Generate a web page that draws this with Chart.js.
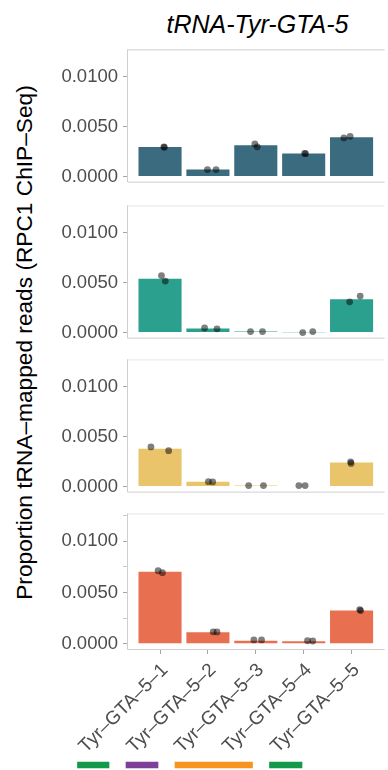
<!DOCTYPE html>
<html>
<head>
<meta charset="utf-8">
<script src="https://cdn.jsdelivr.net/npm/chart.js@4.4.1/dist/chart.umd.min.js"></script>
<style>
  body { margin: 0; background: #ffffff; }
  #wrap { position: relative; width: 388px; height: 770px; overflow: hidden; font-family: "Liberation Sans", Arial, sans-serif; }
  #wrap canvas { position: absolute; left: 0; }
  #title { position: absolute; left: 127px; width: 261px; top: 12px; line-height: 25px; font-size: 25px; font-style: italic; text-align: center; color: #000; }
  #ytitle { position: absolute; left: -276.5px; width: 600px; top: 331px; line-height: 23px; font-size: 22.7px; text-align: center; color: #000; transform: rotate(-90deg); white-space: nowrap; }
</style>
</head>
<body>
<div id="wrap">
  <div id="title">tRNA-Tyr-GTA-5</div>
  <div id="ytitle">Proportion tRNA–mapped reads (RPC1 ChIP–Seq)</div>
  <canvas id="panel1" width="388" height="140" style="top:46px"></canvas>
  <canvas id="panel2" width="388" height="140" style="top:202px"></canvas>
  <canvas id="panel3" width="388" height="140" style="top:356px"></canvas>
  <canvas id="panel4" width="388" height="240" style="top:510px"></canvas>
  <canvas id="track" width="388" height="14" style="top:758px"></canvas>
</div>
<script>
const categories = ['Tyr–GTA–5–1', 'Tyr–GTA–5–2', 'Tyr–GTA–5–3', 'Tyr–GTA–5–4', 'Tyr–GTA–5–5'];
const yTickValues = [0, 0.0025, 0.005, 0.0075, 0.01, 0.0125];

// bar heights (mean) and the replicate points on top of them, one set per panel
const means1 = [0.00295, 0.0007, 0.00314, 0.00231, 0.00393];
const repX1 = [1.08, 1.09, 1.99, 2.17, 2.98, 3.03, 4.02, 4.04, 4.84, 4.97];
const repY1 = [0.00298, 0.00293, 0.0007, 0.0007, 0.00327, 0.00298, 0.00232, 0.00229, 0.00387, 0.00403];

const means2 = [0.00538, 0.00041, 0.0001, 0.00003, 0.00333];
const repX2 = [1.03, 1.11, 1.93, 2.19, 2.89, 3.14, 3.98, 4.19, 4.96, 5.18];
const repY2 = [0.0057, 0.00515, 0.00046, 0.00038, 0.0001, 0.0001, 0.0, 0.0001, 0.00308, 0.00365];

const means3 = [0.00378, 0.00048, 0.00012, 0.00005, 0.0024];
const repX3 = [0.81, 1.18, 2.01, 2.1, 2.85, 3.16, 3.9, 4.03, 4.98, 4.99];
const repY3 = [0.00397, 0.00359, 0.00049, 0.00047, 0.0001, 0.0001, 0.0001, 0.0001, 0.00248, 0.00232];

const means4 = [0.00703, 0.00114, 0.00031, 0.00025, 0.00326];
const repX4 = [0.96, 1.05, 2.11, 2.19, 2.96, 3.12, 4.08, 4.19, 5.17, 5.19];
const repY4 = [0.00713, 0.00694, 0.00117, 0.00116, 0.00038, 0.00038, 0.0003, 0.00028, 0.00334, 0.00324];

// feature track under the x labels
const trackStart = [77.5, 126, 175, 269.5];
const trackEnd = [109, 158, 252.5, 302];
const trackColors = ['#13994A', '#7E3F98', '#F7941E', '#13994A'];

const fontFamily = '"Liberation Sans", Arial, sans-serif';

// light frame around each panel
const panelFrame = {
    id: 'panelFrame',
    beforeDatasetsDraw(chart, args, opts) {
        const ctx = chart.ctx;
        const a = chart.chartArea;
        ctx.save();
        ctx.lineWidth = 1;
        ctx.strokeStyle = opts.topColor;
        ctx.beginPath();
        ctx.moveTo(a.left, a.top + 0.5);
        ctx.lineTo(a.right, a.top + 0.5);
        ctx.stroke();
        ctx.strokeStyle = opts.color;
        ctx.beginPath();
        ctx.moveTo(a.left + 0.5, a.top);
        ctx.lineTo(a.left + 0.5, a.bottom - 0.5);
        ctx.lineTo(a.right, a.bottom - 0.5);
        ctx.stroke();
        ctx.restore();
    }
};

function isMajor(v) {
    return Math.abs(v / 0.005 - Math.round(v / 0.005)) < 1e-6;
}

function makePanel(id, means, repX, repY, color, topColor, showX) {
    let bars = means.map((v, i) => ({ x: i + 1, y: v }));
    let points = repX.map((x, i) => ({ x: x, y: repY[i] }));

    return new Chart(document.getElementById(id), {
        data: {
            datasets: [
                {
                    type: 'scatter',
                    data: points,
                    pointRadius: 3.4,
                    pointHoverRadius: 3.4,
                    backgroundColor: 'rgba(0,0,0,0.5)',
                    borderWidth: 0
                },
                {
                    type: 'bar',
                    data: bars,
                    backgroundColor: color,
                    borderWidth: 0,
                    barPercentage: 0.9,
                    categoryPercentage: 1.0
                }
            ]
        },
        options: {
            responsive: false,
            animation: false,
            devicePixelRatio: 1,
            layout: { padding: 0 },
            plugins: {
                legend: { display: false },
                tooltip: { enabled: false },
                panelFrame: { color: '#cfcfcf', topColor: topColor }
            },
            scales: {
                x: {
                    type: 'linear',
                    display: showX,
                    offset: false,
                    min: 0.31,
                    max: 5.69,
                    afterBuildTicks: (axis) => {
                        axis.ticks = categories.map((c, i) => ({ value: i + 1 }));
                    },
                    afterFit: (axis) => {
                        if (!showX) return;
                        axis.height = 100;
                        axis.paddingLeft = 0;
                        axis.paddingRight = 0;
                    },
                    ticks: {
                        autoSkip: false,
                        minRotation: 45,
                        maxRotation: 45,
                        padding: 5,
                        labelOffset: 5,
                        color: '#4d4d4d',
                        font: { family: fontFamily, size: 19 },
                        callback: (v) => categories[Math.round(v) - 1]
                    },
                    grid: { offset: false, drawOnChartArea: false, drawTicks: true, tickLength: 4, color: '#a6a6a6' },
                    border: { display: false }
                },
                y: {
                    type: 'linear',
                    min: -0.0006,
                    max: 0.01272,
                    afterBuildTicks: (axis) => {
                        axis.ticks = yTickValues.map(v => ({ value: v }));
                    },
                    afterFit: (axis) => {
                        axis.width = 127;
                        axis.paddingTop = 0;
                        axis.paddingBottom = 0;
                    },
                    ticks: {
                        padding: 5,
                        color: '#4d4d4d',
                        font: { family: fontFamily, size: 18.5 },
                        callback: (v) => isMajor(v) ? v.toFixed(4) : ''
                    },
                    grid: {
                        drawOnChartArea: false,
                        drawTicks: true,
                        tickLength: 4,
                        color: (c) => isMajor(c.tick.value) ? '#a6a6a6' : '#c8c8c8'
                    },
                    border: { display: false }
                }
            }
        },
        plugins: [panelFrame]
    });
}

makePanel('panel1', means1, repX1, repY1, '#3A6B7E', '#cfcfcf', false);
makePanel('panel2', means2, repX2, repY2, '#2CA08E', '#e6e6e6', false);
makePanel('panel3', means3, repX3, repY3, '#E9C46A', '#e6e6e6', false);
makePanel('panel4', means4, repX4, repY4, '#E87050', '#e6e6e6', true);

new Chart(document.getElementById('track'), {
    type: 'bar',
    data: {
        labels: ['track'],
        datasets: [{
            data: trackStart.map((s, i) => ({ x: [s, trackEnd[i]], y: 'track' })),
            backgroundColor: trackColors,
            borderWidth: 0,
            barThickness: 6
        }]
    },
    options: {
        indexAxis: 'y',
        responsive: false,
        animation: false,
        devicePixelRatio: 1,
        layout: { padding: 0 },
        plugins: { legend: { display: false }, tooltip: { enabled: false } },
        scales: {
            x: { type: 'linear', display: false, offset: false, min: 0, max: 388 },
            y: { display: false }
        }
    }
});
</script>
</body>
</html>
